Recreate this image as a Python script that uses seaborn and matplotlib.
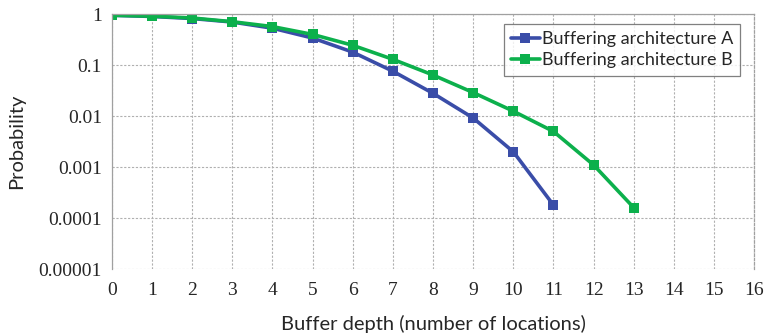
import numpy as np
import pandas as pd
import seaborn as sns
import matplotlib
matplotlib.use("Agg")
import matplotlib.pyplot as plt
from matplotlib.ticker import FixedLocator, FixedFormatter

depth_a = [0, 1, 2, 3, 4, 5, 6, 7, 8, 9, 10, 11]
prob_a = [0.95, 0.9, 0.82, 0.7, 0.53, 0.34, 0.18, 0.076, 0.028, 0.0092, 0.002, 0.00018]
depth_b = [0, 1, 2, 3, 4, 5, 6, 7, 8, 9, 10, 11, 12, 13]
prob_b = [0.95, 0.91, 0.84, 0.71, 0.57, 0.4, 0.245, 0.13, 0.064, 0.029, 0.0125, 0.005, 0.0011, 0.00016]
series_names = ["Buffering architecture A", "Buffering architecture B"]
y_ticks = [1, 0.1, 0.01, 0.001, 0.0001, 0.00001]
y_labels = ["1", "0.1", "0.01", "0.001", "0.0001", "0.00001"]

df = pd.concat([
    pd.DataFrame({"depth": depth_a, "prob": prob_a, "series": series_names[0]}),
    pd.DataFrame({"depth": depth_b, "prob": prob_b, "series": series_names[1]}),
])

sns.set_style("white")
fig = plt.figure(figsize=(7.65, 3.36), dpi=100)
ax = fig.add_axes([0.146, 0.199, 0.84, 0.759])

palette = {series_names[0]: "#3A4DA8", series_names[1]: "#0CB04C"}
sns.lineplot(data=df, x="depth", y="prob", hue="series", palette=palette,
             marker="s", markersize=7.5, markeredgewidth=0, linewidth=2.6,
             ax=ax, legend=True)
ax.set_yscale("log")
ax.set_xlim(0, 16)
ax.set_ylim(1e-5, 1)
ax.set_xticks(range(0, 17))
ax.yaxis.set_major_locator(FixedLocator(y_ticks))
ax.yaxis.set_major_formatter(FixedFormatter(y_labels))
ax.yaxis.set_minor_locator(FixedLocator([]))
ax.grid(True, which="major", color="#B0B0B0", linestyle=(0, (2, 1.5)), linewidth=0.8)
for s in ax.spines.values():
    s.set_color("#A0A0A0")
    s.set_linewidth(0.9)
ax.spines["bottom"].set_visible(False)
ax.spines["right"].set_linestyle((0, (2, 1.5)))
ax.tick_params(axis="both", length=0, labelsize=14)
ax.tick_params(axis="x", pad=9)
ax.tick_params(axis="y", pad=7)
for lab in ax.get_xticklabels() + ax.get_yticklabels():
    lab.set_fontfamily("Liberation Serif")
ax.set_xlabel("Buffer depth (number of locations)", fontsize=14.5, family="Lato", labelpad=12)
ax.set_ylabel("Probability", fontsize=14.5, family="Lato", labelpad=10)

leg = ax.legend(loc="upper right", bbox_to_anchor=(0.978, 0.962), frameon=True,
                fancybox=False, prop={"family": "Lato", "size": 13},
                handlelength=1.6, handletextpad=0.1, borderpad=0.4,
                labelspacing=0.3, borderaxespad=0)
leg.get_frame().set_edgecolor("#606060")
leg.get_frame().set_linewidth(0.9)

fig.savefig("out.png", dpi=100)
